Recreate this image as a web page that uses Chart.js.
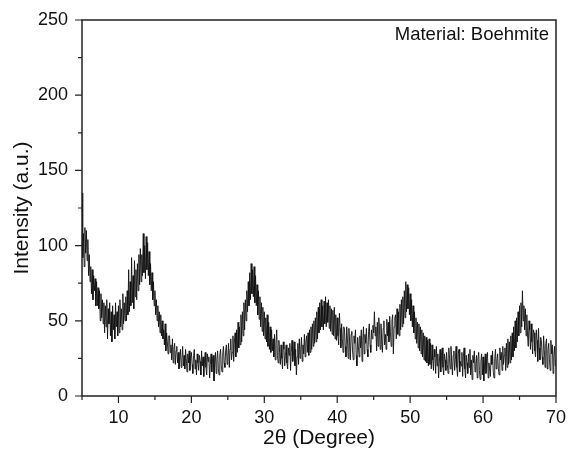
<!DOCTYPE html>
<html>
<head>
<meta charset="utf-8">
<script src="https://cdn.jsdelivr.net/npm/chart.js@4.4.1/dist/chart.umd.min.js"></script>
<style>
  html, body { margin: 0; padding: 0; background: #fff; }
  #wrap { width: 570px; height: 460px; }
</style>
</head>
<body>
<div id="wrap"><canvas id="xrd" width="570" height="460"></canvas></div>
<script>
// 2θ grid: 5° to 70°, 0.1° step
const startAngle = 5;
const stepAngle = 0.1;

// intensity, one row per degree (5°, 6°, ... 69°, then 70°)
const intensity = [
  135, 92, 108, 86, 112, 95, 110, 90, 104, 80,
  94, 76, 86, 68, 84, 64, 80, 70, 78, 60,
  76, 60, 72, 58, 70, 50, 68, 52, 64, 48,
  62, 42, 60, 46, 64, 38, 58, 48, 62, 40,
  56, 36, 60, 44, 54, 38, 62, 46, 56, 40,
  60, 42, 64, 46, 58, 44, 68, 48, 62, 50,
  66, 50, 70, 54, 84, 56, 76, 60, 92, 62,
  80, 58, 90, 66, 84, 64, 88, 70, 94, 74,
  98, 76, 94, 80, 108, 82, 100, 78, 106, 84,
  102, 80, 96, 74, 88, 70, 82, 64, 76, 60,
  70, 54, 64, 50, 60, 46, 56, 42, 54, 40,
  50, 38, 44, 34, 48, 30, 42, 36, 28, 40,
  40, 29, 34, 24, 38, 22, 31, 35, 21, 30,
  33, 22, 29, 18, 26, 31, 19, 24, 33, 20,
  27, 18, 31, 25, 16, 28, 22, 30, 17, 26,
  29, 21, 15, 27, 31, 18, 24, 14, 28, 22,
  17, 27, 23, 14, 30, 20, 26, 13, 24, 29,
  19, 14, 28, 23, 26, 12, 21, 28, 16, 25,
  27, 10, 22, 29, 15, 24, 30, 18, 14, 27,
  31, 20, 16, 28, 33, 22, 19, 30, 34, 21,
  26, 35, 19, 31, 38, 24, 29, 40, 23, 36,
  42, 26, 44, 29, 49, 32, 46, 34, 54, 36,
  56, 40, 62, 44, 64, 50, 70, 56, 76, 60,
  82, 64, 88, 68, 84, 66, 86, 62, 80, 60,
  74, 54, 70, 51, 66, 46, 62, 43, 59, 40,
  56, 38, 52, 36, 54, 33, 49, 31, 46, 29,
  44, 30, 38, 26, 41, 24, 34, 44, 27, 22,
  37, 29, 21, 34, 25, 18, 36, 31, 20, 27,
  34, 22, 18, 32, 27, 35, 17, 29, 37, 23,
  28, 36, 20, 31, 14, 26, 35, 21, 38, 25,
  31, 39, 23, 34, 28, 41, 26, 36, 40, 29,
  42, 27, 44, 29, 46, 31, 48, 33, 50, 35,
  52, 36, 56, 38, 59, 42, 62, 44, 64, 46,
  60, 44, 63, 48, 66, 46, 62, 49, 64, 45,
  60, 43, 58, 41, 57, 40, 59, 38, 54, 37,
  52, 40, 34, 55, 45, 32, 48, 38, 29, 46,
  44, 33, 26, 46, 38, 25, 45, 36, 24, 41,
  43, 30, 24, 40, 35, 44, 27, 20, 39, 33,
  26, 40, 32, 44, 23, 37, 46, 28, 41, 35,
  45, 31, 26, 43, 48, 34, 29, 44, 38, 47,
  42, 56, 40, 46, 30, 49, 33, 52, 44, 31,
  48, 37, 29, 45, 50, 34, 41, 31, 51, 40,
  49, 36, 53, 42, 33, 50, 54, 28, 46, 52,
  54, 38, 58, 41, 56, 40, 61, 44, 64, 46,
  66, 48, 70, 52, 76, 56, 74, 58, 72, 54,
  68, 50, 64, 46, 60, 42, 56, 38, 52, 35,
  49, 32, 48, 30, 46, 28, 44, 26, 42, 24,
  40, 23, 39, 22, 37, 20, 38, 21, 35, 18,
  34, 24, 17, 31, 26, 15, 33, 20, 28, 12,
  22, 31, 16, 27, 32, 19, 14, 28, 24, 17,
  29, 21, 15, 32, 25, 18, 33, 22, 14, 27,
  30, 17, 24, 33, 19, 13, 28, 31, 16, 23,
  20, 29, 13, 26, 32, 18, 12, 27, 22, 15,
  28, 19, 31, 14, 24, 11, 27, 22, 30, 16,
  21, 27, 12, 25, 29, 17, 11, 23, 28, 14,
  26, 10, 20, 28, 15, 24, 29, 12, 22, 18,
  13, 27, 21, 30, 16, 12, 25, 31, 18, 24,
  28, 18, 14, 32, 24, 29, 17, 33, 21, 27,
  32, 17, 35, 19, 38, 21, 36, 22, 40, 24,
  42, 26, 46, 30, 50, 32, 52, 36, 56, 40,
  60, 42, 62, 46, 70, 50, 60, 44, 58, 40,
  54, 40, 33, 50, 44, 31, 48, 36, 28, 44,
  42, 30, 26, 44, 37, 23, 45, 32, 24, 39,
  37, 26, 21, 40, 31, 19, 35, 38, 18, 30,
  35, 24, 17, 37, 28, 34, 15, 27, 33, 20,
  24
];

const xTicks = [5, 10, 15, 20, 25, 30, 35, 40, 45, 50, 55, 60, 65, 70];
const yTicks = [0, 25, 50, 75, 100, 125, 150, 175, 200, 225, 250];
const legendText = 'Material: Boehmite';

const points = intensity.map((v, i) => ({ x: +(startAngle + i * stepAngle).toFixed(1), y: v }));

const FONT = 'Liberation Sans, Arial, sans-serif';

// frame, outward major/minor ticks and the material note
const framePlugin = {
  id: 'frame',
  afterDraw(chart) {
    const { ctx, chartArea: a, scales } = chart;
    ctx.save();
    ctx.strokeStyle = '#222';
    ctx.lineWidth = 1.5;
    ctx.strokeRect(a.left, a.top, a.right - a.left, a.bottom - a.top);

    ctx.lineWidth = 1.2;
    ctx.beginPath();
    xTicks.forEach(v => {
      const px = scales.x.getPixelForValue(v);
      const len = v % 10 === 0 ? 7 : 4;
      ctx.moveTo(px, a.bottom);
      ctx.lineTo(px, a.bottom + len);
    });
    yTicks.forEach(v => {
      const py = scales.y.getPixelForValue(v);
      const len = v % 50 === 0 ? 7 : 4;
      ctx.moveTo(a.left, py);
      ctx.lineTo(a.left - len, py);
    });
    ctx.stroke();

    ctx.fillStyle = '#111';
    ctx.font = '18.5px ' + FONT;
    ctx.textAlign = 'right';
    ctx.textBaseline = 'middle';
    ctx.fillText(legendText, a.right - 7, a.top + 15);
    ctx.restore();
  }
};

new Chart(document.getElementById('xrd'), {
  type: 'line',
  data: {
    datasets: [{
      data: points,
      borderColor: '#111',
      borderWidth: 0.9,
      pointRadius: 0,
      tension: 0
    }]
  },
  options: {
    responsive: false,
    animation: false,
    layout: { padding: { top: 20, right: 10, left: 0, bottom: 0 } },
    plugins: { legend: { display: false }, tooltip: { enabled: false } },
    scales: {
      x: {
        type: 'linear',
        min: 5,
        max: 70,
        afterBuildTicks: s => { s.ticks = xTicks.map(v => ({ value: v })); },
        afterFit: s => { s.height = 64; },
        border: { display: false },
        grid: { drawOnChartArea: false, tickLength: 7, tickColor: 'rgba(0,0,0,0)' },
        ticks: {
          autoSkip: false,
          maxRotation: 0,
          padding: 4,
          color: '#111',
          font: { family: FONT, size: 18 },
          callback: v => (v % 10 === 0 ? v : '')
        },
        title: {
          display: true,
          text: '2θ (Degree)',
          color: '#111',
          font: { family: FONT, size: 21 },
          padding: { top: 0, bottom: 9 }
        }
      },
      y: {
        min: 0,
        max: 250,
        afterBuildTicks: s => { s.ticks = yTicks.map(v => ({ value: v })); },
        afterFit: s => { s.width = 82; },
        border: { display: false },
        grid: { drawOnChartArea: false, tickLength: 7, tickColor: 'rgba(0,0,0,0)' },
        ticks: {
          autoSkip: false,
          padding: 7,
          color: '#111',
          font: { family: FONT, size: 18 },
          callback: v => (v % 50 === 0 ? v : '')
        },
        title: {
          display: true,
          text: 'Intensity (a.u.)',
          color: '#111',
          font: { family: FONT, size: 21 },
          padding: { top: 10, bottom: 0 }
        }
      }
    }
  },
  plugins: [framePlugin]
});
</script>
</body>
</html>
